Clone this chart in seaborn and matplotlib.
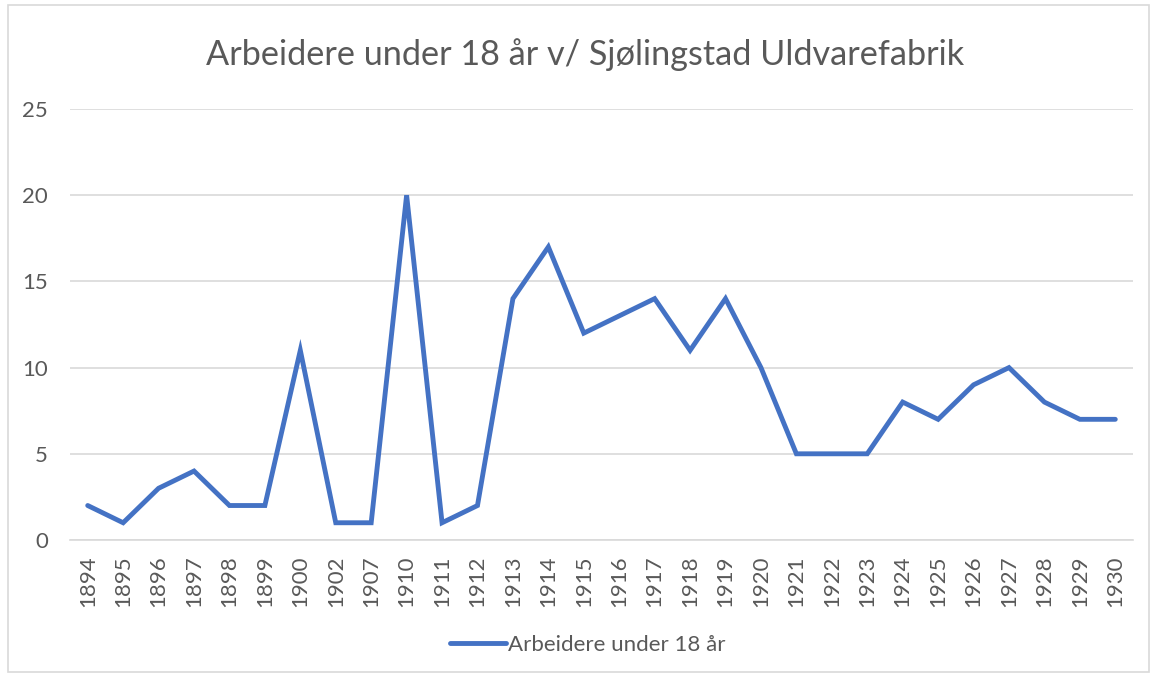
import matplotlib
matplotlib.use("Agg")
import matplotlib.pyplot as plt
import seaborn as sns
import pandas as pd
from matplotlib.patches import Rectangle

years = ["1894", "1895", "1896", "1897", "1898", "1899", "1900", "1902", "1907", "1910",
         "1911", "1912", "1913", "1914", "1915", "1916", "1917", "1918", "1919", "1920",
         "1921", "1922", "1923", "1924", "1925", "1926", "1927", "1928", "1929", "1930"]
workers = [2, 1, 3, 4, 2, 2, 11, 1, 1, 20,
           1, 2, 14, 17, 12, 13, 14, 11, 14, 10,
           5, 5, 5, 8, 7, 9, 10, 8, 7, 7]
series_name = "Arbeidere under 18 år"
title = "Arbeidere under 18 år v/ Sjølingstad Uldvarefabrik"

df = pd.DataFrame({"year": years, "value": workers})

sns.set_style("white")
plt.rcParams['font.family'] = ['Lato', 'DejaVu Sans']
text_col = "#595959"
grid_col = "#D9D9D9"

fig = plt.figure(figsize=(11.53, 6.74), dpi=100)
ax = fig.add_axes([70 / 1153, 1 - 540 / 674, (1133 - 70) / 1153, (540 - 109) / 674])

sns.lineplot(data=df, x="year", y="value", ax=ax, color="#4472C4", linewidth=3.5,
             label=series_name, sort=False, solid_joinstyle="miter")

ax.set_xlim(-0.5, len(years) - 0.5)
ax.set_ylim(0, 25)
ax.set_yticks([0, 5, 10, 15, 20, 25])
ax.yaxis.grid(True, color=grid_col, linewidth=1.2)
ax.set_axisbelow(True)
for s in ["top", "right", "left"]:
    ax.spines[s].set_visible(False)
ax.spines["bottom"].set_color(grid_col)
ax.spines["bottom"].set_linewidth(1.2)
ax.set_xlabel("")
ax.set_ylabel("")
ax.tick_params(axis="x", rotation=90, labelsize=16, colors=text_col, length=0, pad=11)
ax.tick_params(axis="y", labelsize=16, colors=text_col, length=0, pad=16)

fig.text(585 / 1153, 1 - 55 / 674, title, ha="center", va="center", fontsize=24.7, color=text_col)

ax.legend(loc="center", bbox_to_anchor=(0.51, (674 - 645) / 674), bbox_transform=fig.transFigure,
          frameon=False, fontsize=16, labelcolor=text_col, handlelength=2.5, handletextpad=0.1)

fig.patches.append(Rectangle((8 / 1153, 0.003), 1 - 12 / 1153, 0.99, transform=fig.transFigure,
                             fill=False, edgecolor="#D9D9D9", linewidth=1.2))

fig.savefig("out.png", dpi=100, facecolor="white")
